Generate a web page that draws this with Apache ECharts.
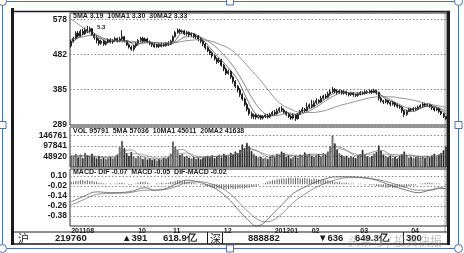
<!DOCTYPE html>
<html><head><meta charset="utf-8">
<script src="https://cdn.jsdelivr.net/npm/echarts@6/dist/echarts.min.js"></script>
<style>html,body{margin:0;padding:0;background:#fff}#c{width:464px;height:253px}</style>
</head><body><div id="c"></div>
<script>
// ---- data ----
const monthLabels = ['201108','10','11','12','201201','02','03','04'];
const monthStarts = [0,29,44,66,88,104,125,147];
const priceTicks = [289,385,482,578];
const volTicks = [48920,97841,146761];
const macdTicks = [-0.38,-0.26,-0.14,-0.02,0.10];
// [open, close, low, high]
const ohlc = [
[505,518,500,522],[518,526,514,530],[526,540,522,545],[540,532,528,546],[532,545,530,550],
[545,538,534,552],[538,550,535,556],[550,545,540,560],[545,552,541,558],[552,536,532,554],
[536,528,522,540],[528,520,512,533],[520,512,506,526],[512,518,508,522],[518,510,505,522],
[510,515,506,520],[515,522,512,526],[522,516,512,526],[516,520,511,524],[520,525,516,530],
[525,518,514,528],[518,524,515,530],[524,530,520,548],[530,518,515,532],[518,508,505,520],
[508,502,498,512],[502,496,492,506],[496,505,490,508],[505,512,500,515],[512,520,508,524],
[520,526,516,530],[526,518,514,530],[518,524,515,528],[524,516,512,527],[516,512,507,520],
[512,508,502,515],[508,503,500,512],[503,508,500,511],[508,504,499,512],[504,509,501,514],
[509,506,502,513],[506,512,503,516],[512,510,505,518],[510,518,508,522],[518,530,516,534],
[530,542,528,546],[542,548,538,553],[548,544,538,552],[544,546,540,550],[546,538,534,549],
[538,542,533,546],[542,535,530,545],[535,538,530,542],[538,530,526,540],[530,532,524,536],
[532,524,518,535],[524,518,512,528],[518,510,504,522],[510,500,495,514],[500,492,488,504],
[492,486,480,496],[486,478,472,490],[478,470,465,482],[470,462,456,474],[462,466,458,472],
[466,452,448,470],[452,442,436,456],[442,430,425,446],[430,436,426,440],[436,420,415,438],
[420,408,402,424],[408,395,390,412],[395,385,378,398],[385,372,366,390],[372,360,355,376],
[360,345,340,364],[345,332,326,350],[332,320,315,336],[320,312,306,326],[312,316,305,320],
[316,310,304,320],[310,314,306,318],[314,308,303,317],[308,312,304,316],[312,316,308,320],
[316,311,306,320],[311,318,308,322],[318,324,314,328],[324,320,314,330],[320,328,317,334],
[328,334,324,338],[334,330,326,341],[330,324,320,334],[324,318,314,328],[318,312,308,322],
[312,308,303,316],[308,316,304,320],[316,306,300,318],[306,318,304,322],[318,326,316,330],
[326,332,322,338],[332,328,324,336],[328,338,326,350],[338,344,334,348],[344,340,335,358],
[340,350,338,356],[350,356,346,362],[356,352,348,360],[352,362,350,368],[362,368,358,372],
[368,365,360,374],[365,374,362,380],[374,380,370,386],[380,386,376,393],[386,382,376,390],
[382,378,372,386],[378,382,374,386],[382,376,372,385],[376,380,372,384],[380,375,370,383],
[375,372,367,378],[372,376,368,380],[376,372,366,379],[372,370,365,375],[370,374,366,378],
[374,378,370,382],[378,375,371,381],[375,380,372,384],[380,378,374,384],[378,382,375,386],
[382,379,374,385],[379,383,376,388],[383,378,372,386],[378,362,356,380],[362,355,350,366],
[355,352,346,358],[352,356,348,360],[356,350,345,358],[350,346,340,354],[346,350,342,354],
[350,344,338,352],[344,340,335,348],[340,338,333,344],[338,328,322,340],[328,318,311,330],
[318,326,314,330],[326,332,324,336],[332,330,326,336],[330,334,327,338],[334,332,328,338],
[332,338,330,342],[338,342,335,346],[342,346,338,350],[346,343,339,349],[343,345,340,349],
[345,340,336,348],[340,336,330,344],[336,330,326,338],[330,334,327,338],[334,326,322,336],
[326,320,316,328],[320,312,308,322],[312,306,302,314]
];
const ma5 = [[0,512],[4,532],[8,546],[12,530],[16,515],[20,520],[24,520],[28,505],[32,518],[36,511],[40,506],[44,512],[48,540],[52,540],[56,528],[60,500],[64,472],[68,445],[72,412],[76,360],[80,318],[84,312],[88,318],[92,327],[96,316],[100,328],[104,336],[108,352],[112,370],[116,382],[120,376],[124,372],[128,377],[132,380],[136,360],[140,349],[144,332],[148,326],[152,338],[156,341],[160,330],[162,319]];
const ma10 = [[0,522],[5,530],[10,535],[15,524],[20,518],[25,515],[30,512],[35,515],[40,510],[45,515],[50,530],[55,530],[58,522],[62,505],[66,480],[70,450],[74,410],[78,365],[82,330],[86,314],[90,316],[94,322],[98,318],[102,325],[106,338],[110,355],[114,370],[118,378],[122,377],[126,376],[130,378],[134,370],[138,358],[142,345],[146,335],[150,334],[154,340],[158,338],[162,327]];
const ma30 = [[0,578],[4,560],[8,540],[11,528],[17,522],[25,518],[34,515],[43,514],[51,520],[56,522],[60,519],[64,510],[69,495],[73,473],[77,445],[82,410],[86,378],[90,350],[95,332],[99,324],[103,323],[108,326],[112,333],[116,342],[121,350],[125,357],[129,363],[134,366],[138,366],[142,363],[147,358],[151,352],[155,346],[160,340],[162,337]];
const volume = [
52000,48000,61000,45000,58000,42000,66000,55000,49000,62000,47000,40000,52000,38000,44000,
36000,41000,48000,39000,46000,58000,92000,121000,88000,64000,52000,70000,48000,42000,50000,
45000,38000,42000,35000,40000,33000,37000,30000,36000,34000,42000,38000,45000,62000,118000,
95000,78000,56000,62000,48000,52000,44000,40000,46000,38000,42000,36000,44000,48000,52000,
46000,55000,42000,50000,58000,45000,62000,54000,48000,66000,58000,72000,64000,80000,105000,
88000,112000,96000,74000,60000,52000,45000,48000,40000,44000,38000,50000,56000,46000,62000,
58000,72000,66000,48000,54000,40000,46000,52000,44000,58000,50000,68000,56000,62000,52000,
48000,55000,60000,50000,64000,58000,72000,96000,146000,110000,82000,64000,56000,48000,52000,
44000,50000,46000,42000,55000,60000,80000,58000,50000,46000,52000,62000,70000,100000,76000,
58000,50000,46000,54000,42000,48000,40000,52000,60000,72000,56000,44000,48000,42000,46000,
50000,44000,48000,42000,52000,46000,54000,62000,48000,58000,66000,78000,95000
];
const volMa5 = [[0,52000],[6,52000],[12,45000],[18,42000],[22,70000],[26,80000],[30,52000],[36,37000],[42,40000],[45,75000],[48,82000],[54,44000],[60,48000],[66,52000],[72,62000],[76,90000],[80,78000],[86,44000],[92,58000],[98,50000],[104,60000],[110,58000],[114,95000],[118,85000],[124,50000],[128,62000],[134,78000],[140,50000],[146,56000],[152,46000],[158,52000],[162,72000]];
const volMa10 = [[0,50000],[8,52000],[16,46000],[24,62000],[30,60000],[38,40000],[44,55000],[50,65000],[56,46000],[64,50000],[72,62000],[78,80000],[86,55000],[94,55000],[102,54000],[110,60000],[116,85000],[124,58000],[132,60000],[140,58000],[148,52000],[156,50000],[162,62000]];
const dif = [[0,-0.21],[5,-0.15],[11,-0.09],[17,-0.10],[25,-0.09],[32,-0.04],[36,-0.07],[41,-0.05],[45,0.00],[50,0.05],[56,0.02],[60,-0.02],[64,-0.08],[69,-0.20],[73,-0.33],[77,-0.44],[80,-0.50],[83,-0.47],[87,-0.36],[92,-0.22],[96,-0.11],[102,-0.02],[108,0.05],[115,0.09],[121,0.09],[126,0.08],[132,0.05],[138,-0.01],[145,-0.07],[150,-0.10],[155,-0.07],[160,-0.04],[162,-0.06]];
const dea = [[0,-0.25],[5,-0.19],[11,-0.12],[17,-0.11],[25,-0.10],[32,-0.07],[36,-0.07],[41,-0.06],[45,-0.03],[50,0.02],[56,0.03],[60,0.01],[64,-0.03],[69,-0.12],[73,-0.23],[77,-0.34],[80,-0.41],[84,-0.45],[88,-0.42],[92,-0.33],[96,-0.22],[102,-0.10],[108,-0.01],[115,0.06],[121,0.08],[126,0.08],[132,0.06],[138,0.02],[145,-0.04],[150,-0.07],[155,-0.07],[160,-0.05],[162,-0.05]];
const macdHist = [
0.03,0.03,0.04,0.04,0.05,0.05,0.04,0.05,0.04,0.04,0.03,0.03,0.02,0.02,0.01,
0.01,0.00,0.01,0.00,0.01,0.01,0.02,0.02,0.01,0.00,-0.01,-0.01,0.00,0.01,0.02,
0.03,0.03,0.03,0.02,0.01,0.00,0.00,0.01,0.01,0.02,0.01,0.02,0.02,0.03,0.03,
0.04,0.05,0.05,0.04,0.04,0.03,0.03,0.02,0.02,0.01,0.00,-0.01,-0.01,-0.02,-0.03,
-0.03,-0.04,-0.04,-0.05,-0.05,-0.05,-0.06,-0.06,-0.06,-0.05,-0.06,-0.06,-0.05,-0.05,-0.05,
-0.05,-0.04,-0.04,-0.03,-0.03,-0.02,-0.01,0.00,0.01,0.02,0.03,0.04,0.05,0.05,0.06,
0.06,0.07,0.07,0.07,0.08,0.08,0.07,0.08,0.08,0.07,0.07,0.08,0.07,0.07,0.06,
0.07,0.06,0.06,0.05,0.06,0.05,0.05,0.04,0.04,0.03,0.03,0.03,0.02,0.02,0.02,
0.01,0.01,0.01,0.00,0.00,0.01,0.00,-0.01,0.00,-0.01,-0.01,-0.01,-0.02,-0.03,-0.03,
-0.03,-0.04,-0.04,-0.03,-0.04,-0.04,-0.03,-0.03,-0.03,-0.04,-0.03,-0.02,-0.02,-0.01,-0.01,
0.00,0.01,0.01,0.02,0.02,0.02,0.02,0.01,0.01,0.01,0.00,0.00,-0.01
];
const mainLegend = '5MA 3.19  10MA1 3.30  30MA2 3.33';
const volLegend = 'VOL 95791  5MA 57036  10MA1 45011  20MA2 41638';
const macdLegend = 'MACD- DIF -0.07  MACD -0.05  DIF-MACD -0.02';
const peakNote = '5.3';
const statusTexts = ['沪','219760','▲391','618.9亿','深','888882','▼636','649.3亿','300'];
const watermark = '头条号 / 投资快报';

// ---- chart ----
const categories = ohlc.map((d, i) => String(i));
const labelAt = {};
monthStarts.forEach((s, k) => { labelAt[s] = monthLabels[k]; });
const FONT = 'Liberation Sans, Arial, sans-serif';
const INK = '#1a1a1a';
const L = 70, R = 17;
const grids = [
  {left: L, right: R, top: 13, height: 112},
  {left: L, right: R, top: 127, height: 40},
  {left: L, right: R, top: 169, height: 57}
].map(g => Object.assign(g, {show: true, borderColor: '#333', borderWidth: 1, containLabel: false}));

function xAx(gi, showLabels) {
  return {
    type: 'category', gridIndex: gi, data: categories, boundaryGap: true,
    axisLine: {show: false}, axisTick: {show: false}, splitLine: {show: false},
    axisLabel: showLabels ? {
      show: true, interval: (idx) => labelAt[idx] !== undefined,
      formatter: (v, idx) => labelAt[idx] || '', align: 'left', margin: 2,
      fontSize: 7, fontWeight: 'bold', fontFamily: FONT, color: INK
    } : {show: false}
  };
}
const splitStyle = {show: true, lineStyle: {color: '#888', type: [1.5, 2], width: 1}};
const yLabel = (fmt) => ({fontSize: 8.5, fontWeight: 'bold', fontFamily: FONT, color: INK, margin: 3,
  showMinLabel: false, showMaxLabel: false, formatter: fmt});

const option = {
  animation: false,
  backgroundColor: '#fff',
  grid: grids,
  xAxis: [xAx(0, false), xAx(1, false), xAx(2, true)],
  yAxis: [
    {type: 'value', gridIndex: 0, min: 289, max: 595, interval: 96.3333333,
     axisLine: {show: false}, axisTick: {show: false}, splitLine: splitStyle,
     axisLabel: Object.assign(yLabel(v => Math.round(v)), {showMinLabel: true})},
    {type: 'value', gridIndex: 1, min: 0, max: 186000, interval: 48920.333,
     axisLine: {show: false}, axisTick: {show: false}, splitLine: splitStyle,
     axisLabel: yLabel(v => Math.round(v))},
    {type: 'value', gridIndex: 2, min: -0.50, max: 0.184, interval: 0.12,
     axisLine: {show: false}, axisTick: {show: false}, splitLine: splitStyle,
     axisLabel: yLabel(v => v.toFixed(2))}
  ],
  series: [
    {type: 'candlestick', xAxisIndex: 0, yAxisIndex: 0, barWidth: '65%',
     data: ohlc.map(d => [d[0], d[1], d[2], d[3]]),
     itemStyle: {color: '#fff', color0: '#111', borderColor: '#111', borderColor0: '#111', borderWidth: 0.9}},
    {type: 'line', xAxisIndex: 0, yAxisIndex: 0, data: ma5, symbol: 'none', smooth: 0.3,
     lineStyle: {color: '#333', width: 0.7}},
    {type: 'line', xAxisIndex: 0, yAxisIndex: 0, data: ma10, symbol: 'none', smooth: 0.4,
     lineStyle: {color: '#555', width: 0.7}},
    {type: 'line', xAxisIndex: 0, yAxisIndex: 0, data: ma30, symbol: 'none', smooth: 0.5,
     lineStyle: {color: '#666', width: 0.7}},
    {type: 'bar', xAxisIndex: 1, yAxisIndex: 1, barWidth: '70%',
     data: volume.map((v, i) => ({value: v, itemStyle: {
       color: ohlc[i][1] >= ohlc[i][0] ? '#fff' : '#222', borderColor: '#222', borderWidth: 0.7}}))},
    {type: 'line', xAxisIndex: 1, yAxisIndex: 1, data: volMa5, symbol: 'none', smooth: 0.3,
     lineStyle: {color: '#555', width: 0.6}},
    {type: 'line', xAxisIndex: 1, yAxisIndex: 1, data: volMa10, symbol: 'none', smooth: 0.3,
     lineStyle: {color: '#777', width: 0.6}},
    {type: 'bar', xAxisIndex: 2, yAxisIndex: 2, barWidth: 0.8, data: macdHist,
     itemStyle: {color: '#666'}},
    {type: 'line', xAxisIndex: 2, yAxisIndex: 2, data: dif, symbol: 'none', smooth: 0.4,
     lineStyle: {color: '#444', width: 0.7}},
    {type: 'line', xAxisIndex: 2, yAxisIndex: 2, data: dea, symbol: 'none', smooth: 0.4,
     lineStyle: {color: '#666', width: 0.7}}
  ],
  graphic: []
};

const G = option.graphic;
const txt = (t, x, y, size, extra) => G.push(Object.assign({type: 'text', silent: true, z: 50,
  style: Object.assign({text: t, x: x, y: y, font: 'bold ' + size + 'px ' + FONT, fill: INK,
    textVerticalAlign: 'middle'}, extra || {})}));
const ln = (x1, y1, x2, y2, w, c) => G.push({type: 'line', silent: true, z: 40,
  shape: {x1, y1, x2, y2}, style: {stroke: c || INK, lineWidth: w}});

// legends inside panels
txt(mainLegend, 73, 16.5, 7);
txt(volLegend, 73, 131, 7);
txt(macdLegend, 73, 172.5, 7);
txt(peakNote, 97, 27, 6);

// chart outer frame
ln(12, 11.5, 450, 11.5, 1.5);
ln(12.5, 8, 12.5, 245, 3);
ln(448.5, 11, 448.5, 245, 3);
ln(445, 11, 445, 232, 0.6, '#666');
ln(12, 244, 450, 244, 1.5);
// status bar
ln(14, 232, 447, 232, 1);
ln(207.5, 232, 207.5, 244, 1);
ln(222.5, 232, 222.5, 244, 1);
ln(403.5, 232, 403.5, 244, 1);
const sx = [18, 55, 122, 163, 210, 248, 318, 355, 406];
statusTexts.forEach((t, k) => txt(t, sx[k], 238.5, 9.5,
  {font: (k === 0 || k === 4 ? '' : 'bold ') + (k === 0 || k === 4 ? 11 : 9.5) + 'px ' + (k === 0 || k === 4 ? 'Noto Sans CJK SC' : FONT)}));
// watermark
G.push({type: 'text', silent: true, z: 60, style: {text: watermark, x: 348, y: 241,
  font: '12px "Noto Sans CJK SC"', fill: 'rgba(140,140,140,0.55)', textVerticalAlign: 'middle'}});

// selection frame (blue) with handles
const BL = '#4a72a8';
G.push({type: 'rect', silent: true, z: 70, shape: {x: 2.5, y: 1.5, width: 456, height: 247},
  style: {fill: 'none', stroke: BL, lineWidth: 1}});
[[230, 1.5], [2.5, 125], [458.5, 125], [230, 248.5]].forEach(p => G.push({type: 'rect', silent: true, z: 71,
  shape: {x: p[0] - 3.5, y: p[1] - 3.5, width: 7, height: 7}, style: {fill: '#fff', stroke: BL, lineWidth: 1}}));
[[2.5, 1.5], [458.5, 1.5], [2.5, 248.5], [458.5, 248.5]].forEach(p => G.push({type: 'circle', silent: true, z: 71,
  shape: {cx: p[0], cy: p[1], r: 4}, style: {fill: '#fff', stroke: BL, lineWidth: 1}}));

const chart = echarts.init(document.getElementById('c'), null, {renderer: 'canvas'});
chart.setOption(option);
</script></body></html>
